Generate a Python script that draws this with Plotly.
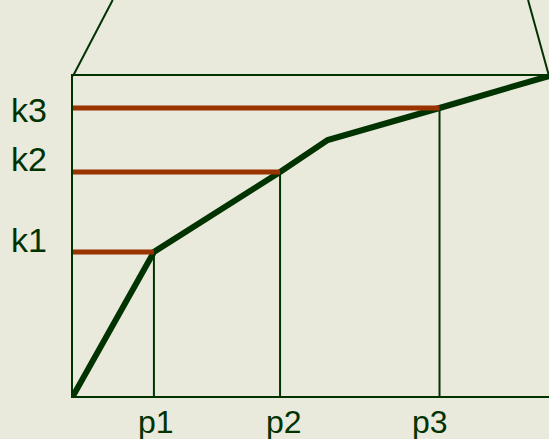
import plotly.graph_objects as go

# ---- data ----
p_labels = ["p1", "p2", "p3"]
k_labels = ["k1", "k2", "k3"]
p_values = [1.7, 4.35, 7.7]
k_values = [4.5, 7.0, 9.0]
curve_x = [0, 1.7, 4.35, 5.35, 7.7, 10]
curve_y = [0, 4.5, 7.0, 8.0, 9.0, 10]
x_range = [0, 10]
y_range = [0, 10]

GREEN = "#003300"
RED = "#993300"
BG = "#E9E9DC"
FONT = "Liberation Sans, Arial, sans-serif"

fig = go.Figure()

# thin verticals from the x axis up to the curve
for p, k in zip(p_values, k_values):
    fig.add_trace(go.Scatter(x=[p, p], y=[y_range[0], k], mode="lines",
                             line=dict(color=GREEN, width=2), hoverinfo="skip"))

# thick curve
fig.add_trace(go.Scatter(x=curve_x, y=curve_y, mode="lines",
                         line=dict(color=GREEN, width=6), hoverinfo="skip"))

# red horizontals from the y axis to the curve
for p, k in zip(p_values, k_values):
    fig.add_trace(go.Scatter(x=[x_range[0], p], y=[k, k], mode="lines",
                             line=dict(color=RED, width=5), hoverinfo="skip"))

# labels
k_yshift = [12, 13, -2]
for k, lab, ys in zip(k_values, k_labels, k_yshift):
    fig.add_annotation(x=x_range[0], y=k, text=lab, showarrow=False,
                       xanchor="right", yanchor="middle", xshift=-24, yshift=ys,
                       font=dict(family=FONT, size=34, color=GREEN))
p_xshift = [2, 4, -10]
for p, lab, xs in zip(p_values, p_labels, p_xshift):
    fig.add_annotation(x=p, y=y_range[0], text=lab, showarrow=False,
                       xanchor="center", yanchor="top", xshift=xs, yshift=-6,
                       font=dict(family=FONT, size=32, color=GREEN))

# zoom guide lines above the box (paper coordinates)
guides = [((0.0, 1.0), (0.0834, 1.2375)), ((1.0, 1.0), (0.956, 1.2375))]
for (x0, y0), (x1, y1) in guides:
    fig.add_shape(type="line", xref="paper", yref="paper", x0=x0, y0=y0, x1=x1, y1=y1,
                  line=dict(color=GREEN, width=2))

fig.update_layout(
    width=549, height=439,
    margin=dict(l=73, r=0, t=76, b=43),
    paper_bgcolor=BG, plot_bgcolor=BG,
    showlegend=False,
    xaxis=dict(range=x_range, showgrid=False, zeroline=False, showticklabels=False,
               ticks="", showline=True, mirror=True, linecolor=GREEN, linewidth=2),
    yaxis=dict(range=y_range, showgrid=False, zeroline=False, showticklabels=False,
               ticks="", showline=True, linecolor=GREEN, linewidth=2),
)

fig.write_html("out.html", config={"displayModeBar": False},
               post_script="document.body.style.margin='0px';document.body.style.background='" + BG + "';")
